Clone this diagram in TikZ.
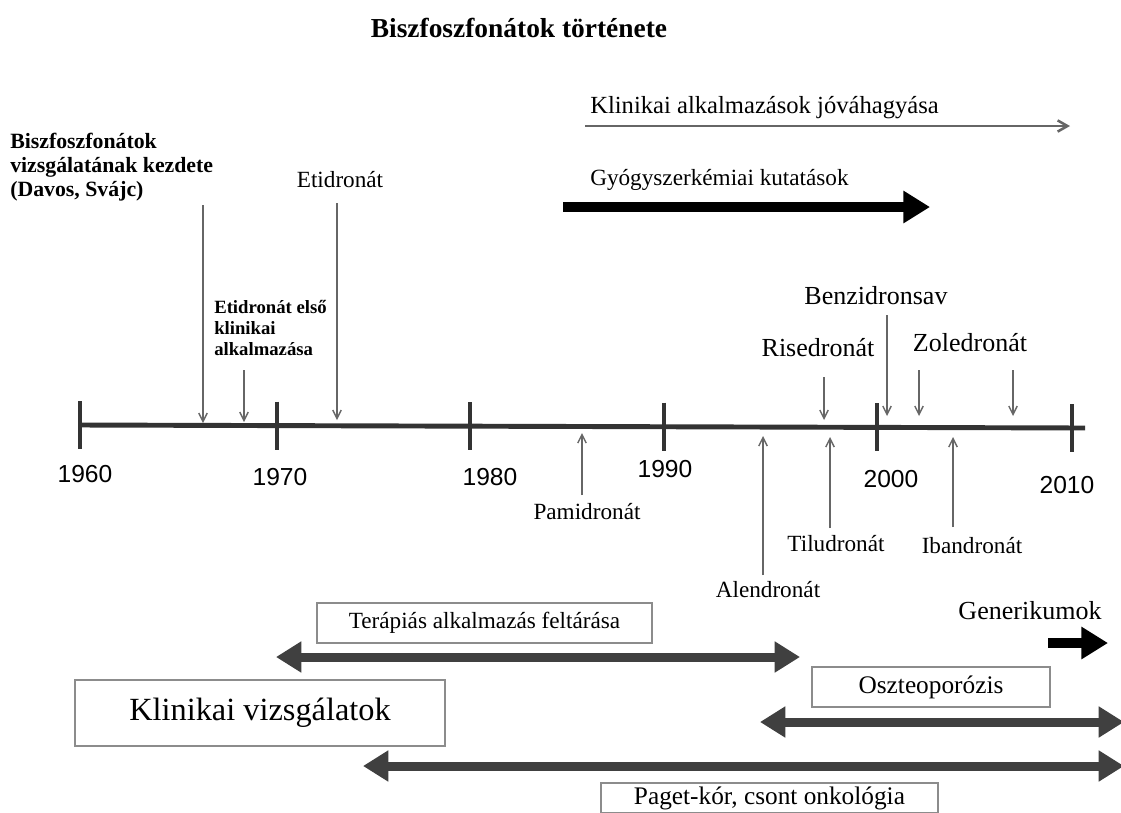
\documentclass[tikz,border=0pt]{standalone}
\usepackage{fontspec}
\setmainfont{Liberation Serif}
\setsansfont{Liberation Sans}
\usetikzlibrary{arrows.meta}

\tikzset{
  tag/.style={inner sep=0pt, font=\fontsize{16.5}{18}\selectfont},
  bigtag/.style={inner sep=0pt, font=\fontsize{18.5}{20}\selectfont},
  boldtag/.style={inner sep=0pt, align=left, font=\bfseries\fontsize{15.5}{17}\selectfont},
  yearlbl/.style={inner sep=0pt, font=\sffamily\fontsize{17.5}{19}\selectfont},
  pinarrow/.style={draw=black!60, line width=1pt, -{Straight Barb[length=6pt,width=6pt]}},
  fatarrow/.style={line width=7pt, -{Triangle[length=19pt,width=22pt]}},
  twoway/.style={draw=black!75, line width=6.4pt, {Triangle[length=18pt,width=21pt]}-{Triangle[length=18pt,width=21pt]}},
  panel/.style={draw=black!45, line width=0.8pt, fill=white, inner sep=0pt, minimum height=1cm},
}

\begin{document}
\begin{tikzpicture}[x=0.025cm,y=-0.025cm]
    \useasboundingbox (0,0) rectangle (1121,812);
    \fill[white] (0,0) rectangle (1121,812);

%title
    \node[font=\bfseries\fontsize{19.5}{21}\selectfont] (title) at (519,28) {Biszfoszfonátok története};

%the time axis
    \coordinate (axisL) at (80,425);
    \coordinate (axisR) at (1085,428);
    \draw[black!80, line width=3.5pt] (axisL) -- (axisR);
    \foreach \x/\y/\yr/\lx/\ly in {80/425/1960/85/474, 277/425.6/1970/280/477, 470/426.2/1980/490/477,
                                   664/426.7/1990/665/469, 877/427.4/2000/891/479, 1072/428/2010/1067/485}
    {
    \draw[black!80, line width=3.5pt] (\x,\y-24) -- (\x,\y+24);
    \node[yearlbl] (yr\yr) at (\lx,\ly) {\yr};
    }

%events above the axis
    \node[boldtag, anchor=west] (davos) at (10,167) {Biszfoszfonátok\\vizsgálatának kezdete\\(Davos, Svájc)};
    \node[boldtag, anchor=west, font=\bfseries\fontsize{13.3}{15}\selectfont] (firstuse) at (214,328) {Etidronát első\\klinikai\\alkalmazása};
    \node[tag] (etid) at (340,180) {Etidronát};
    \node[bigtag] (rise) at (818,348) {Risedronát};
    \node[bigtag] (benz) at (876,296) {Benzidronsav};
    \node[bigtag] (zole) at (970,343) {Zoledronát};
    \foreach \n/\x/\ya/\yb in {davos/203/205/423, firstuse/244/370/422, etid/337/203/420, rise/824/377/420,
                               benz/887/315/416, zoleA/919/370/416, zoleB/1013/370/416}
    {
    \coordinate (\n-a) at (\x,\ya);
    \coordinate (\n-b) at (\x,\yb);
    \draw[pinarrow] (\n-a) -- (\n-b);
    }

%events below the axis
    \node[tag] (pami) at (587,512) {Pamidronát};
    \node[tag] (alen) at (768,590) {Alendronát};
    \node[tag] (tilu) at (836,544) {Tiludronát};
    \node[tag] (iban) at (972,546) {Ibandronát};
    \foreach \n/\x/\ya/\yb in {pami/582/495/433, alen/763/575/436, tilu/830/528/437, iban/953/527/437}
    {
    \coordinate (\n-a) at (\x,\ya);
    \coordinate (\n-b) at (\x,\yb);
    \draw[pinarrow] (\n-a) -- (\n-b);
    }

%research and approval
    \node[tag, anchor=west, font=\fontsize{17.5}{19}\selectfont] (approve) at (590,108) {Klinikai alkalmazások jóváhagyása};
    \coordinate (approveA) at (585,126);
    \coordinate (approveB) at (1070,126);
    \draw[pinarrow, line width=1.8pt, -{Straight Barb[length=7pt,width=8pt]}] (approveA) -- (approveB);
    \node[tag, anchor=west] (chem) at (590,180) {Gyógyszerkémiai kutatások};
    \coordinate (chemA) at (563,207);
    \coordinate (chemB) at (930,207);
    \draw[fatarrow] (chemA) -- (chemB);
    \node[bigtag] (gener) at (1030,611) {Generikumok};
    \coordinate (generA) at (1048,643);
    \coordinate (generB) at (1108,643);
    \draw[fatarrow] (generA) -- (generB);

%clinical periods
    \node[panel, minimum width=8.375cm] (thera) at (484.5,623) {\fontsize{16.5}{18}\selectfont Terápiás alkalmazás feltárása};
    \node[panel, minimum width=9.25cm, minimum height=1.65cm] (clin) at (260,713) {\fontsize{23}{25}\selectfont Klinikai vizsgálatok};
    \node[panel, minimum width=5.95cm] (osteo) at (931,687) {\fontsize{18}{20}\selectfont Oszteoporózis};
    \node[panel, minimum width=8.425cm, minimum height=0.75cm] (paget) at (769.5,798) {\fontsize{18}{20}\selectfont Paget-kór, csont onkológia};
    \coordinate (theraA) at (276,657);
    \coordinate (theraB) at (800,657);
    \coordinate (osteoA) at (760,722);
    \coordinate (osteoB) at (1124,722);
    \coordinate (pagetA) at (363,766);
    \coordinate (pagetB) at (1124,766);
    \draw[twoway] (theraA) -- (theraB);
    \draw[twoway] (osteoA) -- (osteoB);
    \draw[twoway] (pagetA) -- (pagetB);
\end{tikzpicture}
\end{document}
